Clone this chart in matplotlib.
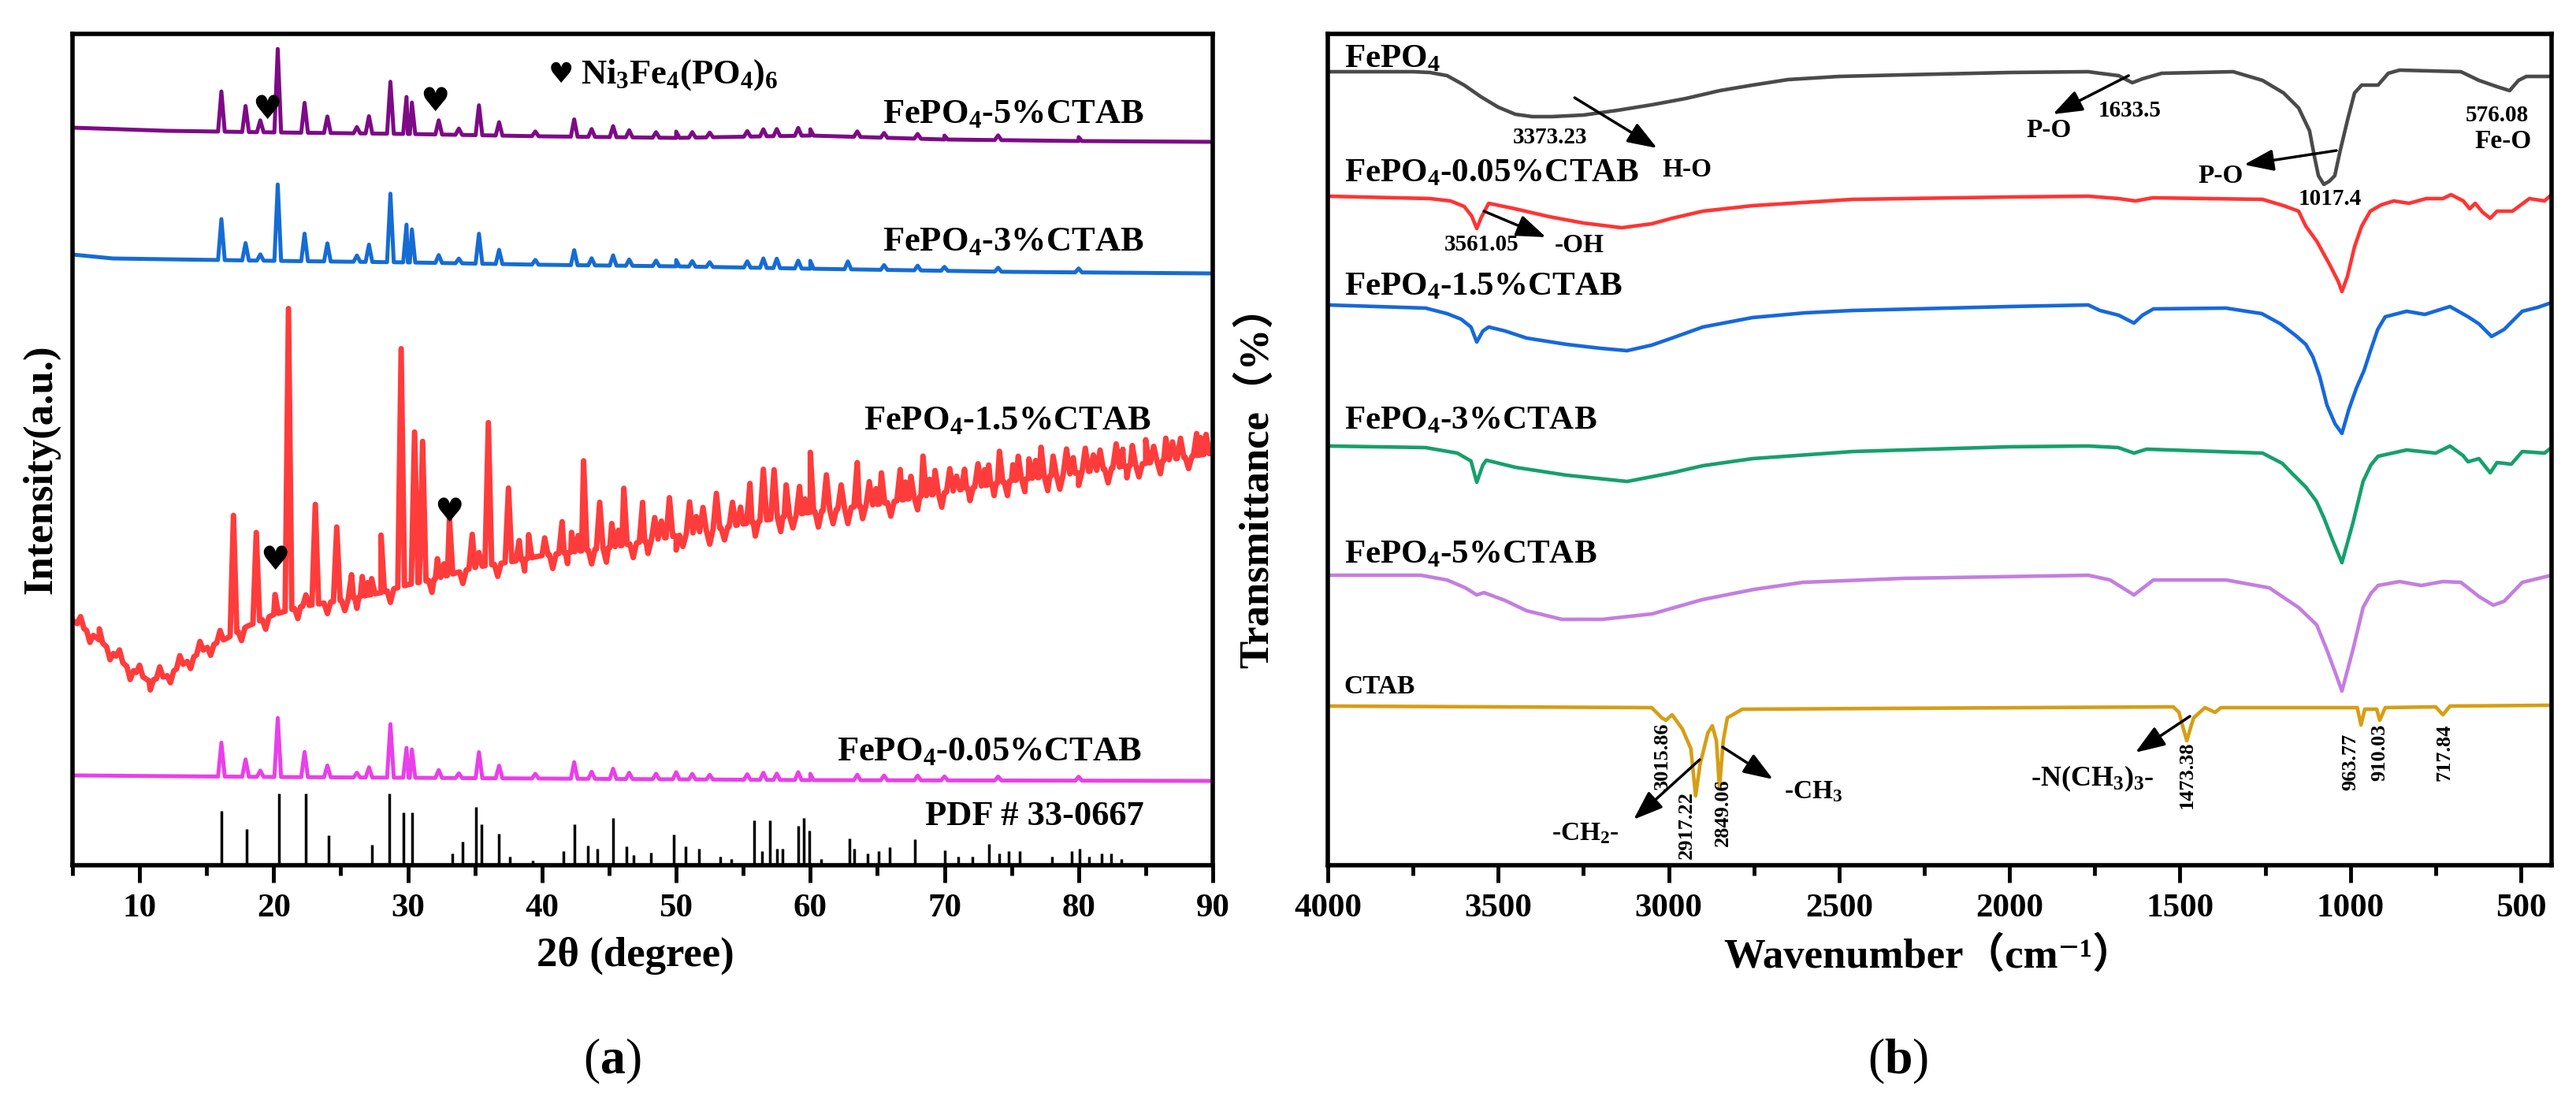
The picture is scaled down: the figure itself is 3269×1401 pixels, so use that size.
# coding: utf-8

import numpy as np
import matplotlib
matplotlib.use('Agg')
import matplotlib.pyplot as plt
from matplotlib.ticker import MultipleLocator


######################
# Fonts
plt.rcParams['font.family'] = ['Liberation Serif', 'DejaVu Serif', 'Noto Sans CJK SC']
plt.rcParams['font.weight'] = 'bold'
plt.rcParams['mathtext.fontset'] = 'custom'
plt.rcParams['mathtext.rm'] = 'Liberation Serif:bold'
plt.rcParams['mathtext.it'] = 'Liberation Serif:italic:bold'
plt.rcParams['mathtext.bf'] = 'Liberation Serif:bold'

######################
# XRD data (a): baselines (2theta, a.u.) and peaks (2theta, height above baseline)
xrd_5_base = [(5, 936), (12, 932), (20, 930), (30, 928), (40, 925), (50, 923),
              (60, 926), (70, 921), (80, 919), (90, 918)]
xrd_5_peaks = [(16.1, 51), (17.9, 33), (19.0, 15), (20.3, 106), (22.3, 38), (24.0, 21),
               (26.2, 8), (27.1, 22), (28.7, 66), (29.9, 47), (30.3, 40), (32.3, 18),
               (33.8, 8), (35.3, 38), (36.8, 17), (39.5, 6), (42.4, 22), (43.7, 10),
               (45.3, 14), (46.5, 9), (48.5, 7), (50.0, 8), (51.2, 7), (52.5, 6),
               (55.3, 7), (56.5, 9), (57.5, 9), (59.1, 10), (60.0, 8), (63.5, 7),
               (65.5, 6), (68.0, 6), (70.0, 5), (74.0, 6), (80.0, 5)]

xrd_3_base = [(5, 775), (8, 770), (20, 767), (30, 765), (40, 762), (50, 760),
              (60, 757), (75, 753), (90, 751)]
xrd_3_peaks = [(16.1, 52), (17.9, 22), (19.0, 8), (20.3, 97), (22.3, 35), (24.0, 23),
               (26.2, 8), (27.1, 22), (28.7, 87), (29.9, 48), (30.3, 42), (32.3, 10),
               (33.8, 6), (35.3, 38), (36.8, 18), (39.5, 6), (42.4, 19), (43.7, 9),
               (45.3, 13), (46.5, 8), (48.5, 7), (50.0, 8), (51.2, 7), (52.5, 6),
               (55.3, 8), (56.5, 12), (57.5, 12), (59.1, 10), (60.0, 10), (62.8, 10),
               (65.5, 6), (68.0, 6), (70.0, 5), (74.0, 5), (80.0, 5)]

xrd_15_base = [(5, 311), (7, 286), (9, 253), (10.7, 234), (12, 240), (13.5, 258),
               (15, 276), (16.5, 288), (18, 303), (20, 318), (22, 328), (25, 336),
               (28, 346), (30, 356), (32, 363), (35, 378), (38, 386), (40, 393),
               (45, 403), (50, 418), (55, 433), (60, 448), (65, 458), (70, 473),
               (75, 488), (80, 498), (85, 510), (90, 523)]
xrd_15_peaks = [(17.0, 151), (18.7, 114), (20.1, 25), (21.1, 383), (23.1, 127), (24.7, 94),
                (25.8, 30), (26.6, 25), (27.3, 20), (28.0, 73), (29.5, 302), (30.5, 192),
                (31.1, 178), (32.2, 25), (33.1, 71), (34.8, 43), (36.0, 181), (37.5, 94),
                (38.3, 25), (39.0, 30), (40.2, 22), (41.5, 40), (42.2, 25), (43.1, 114),
                (44.3, 59), (45.2, 30), (46.1, 72), (47.5, 50), (48.4, 28), (49.5, 50),
                (51.0, 40), (52.0, 30), (53.0, 45), (54.2, 30), (55.5, 50), (56.5, 65),
                (57.3, 62), (58.2, 40), (59.2, 35), (60.0, 76), (61.2, 45), (62.3, 30),
                (63.5, 56), (64.4, 30), (65.3, 39), (66.7, 39), (67.5, 28), (68.4, 51),
                (69.3, 30), (70.4, 29), (71.5, 25), (72.5, 29), (73.3, 25), (74.1, 40),
                (75.5, 30), (76.3, 25), (77.2, 38), (78.1, 25), (79.1, 32), (80.5, 30),
                (81.6, 25), (82.8, 30), (84.0, 25), (85.0, 30), (86.5, 28), (87.6, 25),
                (88.8, 28), (89.5, 25)]
# fine up/down structure of the noisy 1.5 % pattern
xrd_15_fine = [(5.6, 12), (6.3, -12), (7.0, 14), (7.8, -12), (8.5, 12), (9.3, -14),
               (10.0, 12), (10.8, -12), (11.5, 14), (12.3, -12), (13.0, 14), (13.8, -12),
               (14.5, 14), (15.3, -12), (16.0, 14), (17.6, -14), (19.4, -14), (21.8, -14),
               (22.4, 14), (24.0, -14), (25.3, -14), (26.2, -14), (27.0, 16), (28.7, -16),
               (31.8, -16), (32.7, 16), (34.1, -16), (35.3, 18), (36.7, -16), (38.7, -15),
               (40.8, -18), (41.9, -14), (42.7, 20), (43.7, -18), (44.8, -18), (45.7, 20),
               (46.8, -18), (47.9, -16), (48.9, 22), (50.0, -18), (50.5, -15), (51.5, 20),
               (52.5, -18), (53.6, -16), (54.8, 22), (55.9, -18), (57.8, -18), (58.7, -16),
               (59.6, 18), (60.6, -20), (61.7, -18), (62.8, -20), (63.9, -16), (64.9, 20),
               (66.0, -18), (67.1, 22), (68.0, -16), (68.9, 20), (69.8, -18), (70.9, 18),
               (71.9, -16), (73.0, 20), (73.7, -15), (74.7, -18), (75.1, 20), (76.0, -16),
               (76.8, 22), (77.7, -18), (78.6, -18), (79.6, 20), (80.0, -16), (81.1, 20),
               (82.2, -18), (83.3, 22), (83.6, -15), (84.5, -16), (85.6, 20), (86.1, -16),
               (87.0, 22), (88.2, -15), (89.1, 22)]

xrd_005_base = [(5, 114), (20, 112), (40, 110), (60, 108), (90, 107)]
xrd_005_peaks = [(16.1, 43), (17.9, 22), (19.0, 8), (20.3, 75), (22.3, 32), (24.0, 15),
                 (26.2, 6), (27.1, 13), (28.7, 68), (29.9, 38), (30.3, 36), (32.3, 10),
                 (33.8, 6), (35.3, 33), (36.8, 16), (39.5, 6), (42.4, 21), (43.7, 9),
                 (45.3, 13), (46.5, 8), (48.5, 7), (50.0, 9), (51.2, 7), (52.5, 6),
                 (55.3, 7), (56.5, 9), (57.5, 8), (59.1, 10), (60.0, 8), (63.5, 7),
                 (65.5, 6), (68.0, 6), (70.0, 5), (74.0, 5), (80.0, 5)]

# Standard card PDF # 33-0667 (2theta, stick height)
pdf_sticks = [(16.1, 69), (18.0, 46), (20.4, 91), (22.4, 91), (24.1, 38), (27.3, 26),
              (28.6, 91), (29.7, 67), (30.3, 67), (33.3, 15), (34.1, 30), (35.1, 74),
              (35.5, 52), (36.8, 40), (37.6, 11), (39.3, 6), (41.6, 18), (42.4, 52),
              (43.4, 25), (44.1, 21), (45.3, 60), (46.3, 24), (46.8, 13), (48.1, 16),
              (49.8, 39), (50.7, 24), (51.7, 21), (53.3, 11), (54.1, 8), (55.8, 57),
              (56.4, 18), (57.0, 57), (57.5, 21), (57.9, 21), (59.1, 50), (59.5, 60),
              (59.9, 44), (60.8, 8), (62.9, 34), (63.3, 21), (64.3, 15), (65.1, 18),
              (65.9, 23), (67.8, 33), (70.0, 19), (71.0, 11), (72.1, 11), (73.3, 27),
              (74.1, 15), (74.8, 18), (75.6, 18), (78.0, 11), (79.5, 18), (80.1, 21),
              (80.8, 11), (81.7, 15), (82.4, 15), (83.2, 8)]

xrd_labels = ['FePO$_4$-5%CTAB', 'FePO$_4$-3%CTAB', 'FePO$_4$-1.5%CTAB',
              'FePO$_4$-0.05%CTAB', 'PDF # 33-0667']
phase_label = 'Ni$_3$Fe$_4$(PO$_4$)$_6$'
# Ni3Fe4(PO4)6 marks (2theta, a.u.)
heart_marks = [(19.5, 959), (32.0, 969), (20.1, 387), (33.1, 448)]

######################
# FTIR data (b): (wavenumber, transmittance a.u.)
ftir_fepo4 = [(4000, 1007), (3750, 1007), (3700, 1006), (3650, 1002), (3600, 990),
              (3550, 975), (3500, 962), (3450, 953), (3400, 950), (3343, 950),
              (3250, 952), (3150, 958), (3050, 965), (2950, 973), (2850, 983),
              (2754, 990), (2650, 997), (2500, 1001), (2313, 1003), (2000, 1006),
              (1769, 1007), (1735, 1005), (1680, 1002), (1640, 993), (1610, 998),
              (1554, 1005), (1344, 1007), (1258, 996), (1196, 980), (1152, 961),
              (1120, 932), (1106, 900), (1094, 875), (1078, 864), (1062, 868),
              (1046, 875), (1030, 907), (1009, 945), (988, 980), (967, 990),
              (919, 990), (889, 1005), (856, 1009), (676, 1007), (623, 996),
              (570, 988), (533, 983), (507, 996), (484, 1001), (410, 1001)]
ftir_005 = [(4000, 849), (3700, 846), (3640, 843), (3600, 836), (3578, 824), (3563, 808),
            (3550, 822), (3528, 840), (3450, 833), (3350, 823), (3250, 815), (3138, 809),
            (3050, 814), (2990, 821), (2900, 830), (2754, 837), (2460, 845), (2000, 848),
            (1769, 849), (1680, 846), (1631, 843), (1580, 847), (1258, 845), (1196, 837),
            (1152, 830), (1131, 811), (1099, 792), (1062, 763), (1036, 741), (1025, 728),
            (1009, 747), (988, 785), (967, 811), (942, 830), (910, 838), (873, 843),
            (828, 840), (778, 846), (729, 846), (705, 851), (669, 843), (650, 833),
            (634, 840), (613, 829), (590, 821), (570, 830), (525, 830), (475, 846),
            (431, 843), (410, 851)]
ftir_15 = [(4000, 711), (3713, 707), (3650, 700), (3609, 693), (3580, 683), (3563, 664),
           (3545, 678), (3528, 683), (3480, 678), (3417, 669), (3300, 661), (3200, 656),
           (3122, 653), (3050, 660), (2990, 669), (2900, 683), (2754, 695), (2600, 701),
           (2460, 704), (2000, 709), (1769, 711), (1735, 704), (1680, 698), (1635, 688),
           (1610, 698), (1578, 706), (1365, 707), (1260, 700), (1205, 687), (1160, 672),
           (1131, 661), (1110, 645), (1090, 620), (1069, 584), (1045, 560), (1025, 548),
           (1005, 578), (983, 605), (960, 628), (942, 652), (920, 680), (898, 696),
           (835, 703), (782, 699), (708, 709), (655, 696), (623, 687), (586, 671),
           (549, 680), (496, 703), (450, 708), (410, 714)]
ftir_3 = [(4000, 532), (3713, 530), (3620, 523), (3580, 513), (3563, 486), (3545, 508),
          (3535, 514), (3450, 505), (3300, 495), (3122, 487), (2990, 498), (2900, 507),
          (2754, 516), (2460, 525), (2000, 531), (1769, 532), (1681, 530), (1635, 523),
          (1598, 528), (1258, 523), (1200, 510), (1173, 498), (1131, 480), (1100, 462),
          (1078, 441), (1050, 410), (1025, 384), (993, 434), (963, 487), (940, 508),
          (919, 519), (835, 527), (750, 523), (708, 532), (670, 520), (655, 512),
          (623, 516), (590, 498), (570, 511), (528, 509), (496, 525), (431, 523), (410, 530)]
ftir_5 = [(4000, 368), (3727, 368), (3650, 362), (3596, 352), (3563, 343), (3542, 346),
          (3480, 336), (3417, 323), (3313, 312), (3196, 312), (3048, 319), (2902, 337),
          (2750, 350), (2606, 359), (2313, 364), (1769, 368), (1705, 362), (1635, 343),
          (1578, 362), (1365, 362), (1238, 352), (1152, 327), (1099, 305), (1069, 273),
          (1045, 245), (1025, 221), (993, 273), (963, 327), (940, 345), (919, 355),
          (856, 360), (792, 355), (729, 360), (676, 359), (623, 341), (581, 330),
          (549, 335), (496, 359), (410, 368)]
ftir_ctab = [(4000, 202), (3050, 200), (3020, 187), (3008, 184), (2990, 191), (2960, 173),
             (2935, 148), (2921, 88), (2908, 128), (2885, 168), (2872, 177), (2860, 158),
             (2851, 98), (2840, 158), (2828, 187), (2784, 198), (1520, 201), (1503, 194),
             (1490, 173), (1480, 158), (1470, 173), (1460, 187), (1427, 200), (1397, 194),
             (1380, 200), (980, 200), (969, 178), (958, 198), (923, 198), (914, 184),
             (898, 200), (750, 201), (729, 191), (708, 202), (410, 203)]

ftir_labels = ['FePO$_4$', 'FePO$_4$-0.05%CTAB', 'FePO$_4$-1.5%CTAB',
               'FePO$_4$-3%CTAB', 'FePO$_4$-5%CTAB', 'CTAB']


def xrd_curve(base, peaks, w=0.25):
    # Put narrow triangular peaks on a baseline
    bx, by = np.array(base, float).T
    px, ph = np.array(peaks, float).T
    xs = np.concatenate([bx, px - w, px, px + w])
    ys = np.concatenate([by, np.interp(px - w, bx, by),
                         np.interp(px, bx, by) + ph, np.interp(px + w, bx, by)])
    order = np.argsort(xs, kind='stable')
    return xs[order], ys[order]


######################
# Figure layout (pixel boxes of the two panels)
W, H = 3269, 1401
fig = plt.figure(figsize=(W / 100, H / 100), dpi=100)
ax1 = fig.add_axes([92 / W, 1 - 1098 / H, (1539 - 92) / W, (1098 - 43) / H])
ax2 = fig.add_axes([1685 / W, 1 - 1098 / H, (3238 - 1685) / W, (1098 - 43) / H])

######################
# Panel (a): XRD
xrd_sets = [(xrd_5_base, xrd_5_peaks, '#7d0a86', 3.6),
            (xrd_3_base, xrd_3_peaks, '#156cd4', 3.6),
            (xrd_15_base, xrd_15_peaks + xrd_15_fine, '#ff3c3c', 5.0),
            (xrd_005_base, xrd_005_peaks, '#ea3fea', 3.6)]
for base, peaks, color, lw in xrd_sets:
    x, y = xrd_curve(base, peaks)
    ax1.plot(x, y, color=color, lw=lw, solid_joinstyle='round')

sx, sh = np.array(pdf_sticks).T
ax1.vlines(sx, 0, sh, color='black', lw=2.5)

# Sample labels
label_y = [953, 791, 564, 144, 62]
label_x = [84.85, 84.85, 85.4, 84.7, 84.85]
for txt, lx, ly in zip(xrd_labels, label_x, label_y):
    ax1.text(lx, ly, txt, fontsize=32, ha='right', va='center')

# Phase marks and their key
for hx, hy in heart_marks:
    ax1.text(hx, hy, '\u2665', fontsize=30, family='DejaVu Sans',
             ha='center', va='center')
ax1.text(41.4, 1003, '\u2665', fontsize=26, family='DejaVu Sans', ha='center', va='center')
ax1.text(42.9, 1003, phase_label, fontsize=32, ha='left', va='center')

ax1.set_xlim(5, 90)
ax1.set_ylim(0, 1055)
ax1.set_yticks([])
ax1.xaxis.set_major_locator(MultipleLocator(10))
ax1.xaxis.set_minor_locator(MultipleLocator(5))

######################
# Panel (b): FTIR
ftir_sets = [(ftir_fepo4, '#4a4a4a'), (ftir_005, '#ff3434'), (ftir_15, '#1668dc'),
             (ftir_3, '#16a06c'), (ftir_5, '#c47ee0'), (ftir_ctab, '#d69e14')]
for data, color in ftir_sets:
    wn, t = np.array(data).T
    ax2.plot(wn, t, color=color, lw=3.3)

lab_y = [1023, 878, 734, 564, 394, 227]
for txt, ly in zip(ftir_labels, lab_y):
    ax2.text(3952, ly, txt, fontsize=24 if txt == 'CTAB' else 31, ha='left', va='center')

# Band assignments
small = dict(fontsize=21, ha='center', va='center')
group = dict(fontsize=24, ha='center', va='center')
ax2.text(3348, 924, '3373.23', **small)
ax2.text(3020, 883, 'H-O', fontsize=24, ha='left', va='center')
ax2.text(1647, 958, '1633.5', **small)
ax2.text(1885, 932, 'P-O', **group)
ax2.text(570, 951, '576.08', **small)
ax2.text(553, 919, 'Fe-O', **group)
ax2.text(1381, 875, 'P-O', **group)
ax2.text(1060, 846, '1017.4', **small)
ax2.text(3549, 787, '3561.05', **small)
ax2.text(3263, 786, '-OH', **group)
ax2.text(3244, 40, '-CH$_2$-', **group)
ax2.text(2662, 93, '-CH$_3$', fontsize=24, ha='left', va='center')
ax2.text(1758, 110, '-N(CH$_3$)$_3$-', fontsize=26, ha='center', va='center')

vert = dict(fontsize=19, ha='center', va='center', rotation=90)
ax2.text(3018, 139, '3015.86', **vert)
ax2.text(2948, 51, '2917.22', **vert)
ax2.text(2840, 67, '2849.06', **vert)
ax2.text(1480, 115, '1473.38', **vert)
ax2.text(1000, 131, '963.77', **vert)
ax2.text(914, 143, '910.03', **vert)
ax2.text(724, 143, '717.84', **vert)

arrow = dict(arrowstyle='-|>,head_length=0.6,head_width=0.22', color='black',
             lw=2.5, shrinkA=0, shrinkB=0, mutation_scale=38)
arrows = [((3276, 974), (3034, 910)), ((1651, 1002), (1873, 953)),
          ((1041, 907), (1312, 889)), ((3542, 830), (3360, 797)),
          ((2909, 134), (3103, 58)), ((2842, 150), (2694, 109)),
          ((1471, 189), (1631, 143))]
for tail, head in arrows:
    ax2.annotate('', xy=head, xytext=tail, arrowprops=arrow)

ax2.set_xlim(4000, 410)
ax2.set_ylim(0, 1055)
ax2.set_yticks([])
ax2.xaxis.set_major_locator(MultipleLocator(500))
ax2.xaxis.set_minor_locator(MultipleLocator(250))

######################
# Common axis styling
for ax in (ax1, ax2):
    for sp in ax.spines.values():
        sp.set_linewidth(4)
    ax.tick_params(axis='x', which='major', direction='out', length=16, width=3.5,
                   pad=10, labelsize=31)
    ax.tick_params(axis='x', which='minor', direction='out', length=9, width=3.5)

fig.text(806 / W, 1 - 1213 / H, '2θ (degree)', fontsize=38, ha='center', va='center')
fig.text(2448 / W, 1 - 1213 / H, 'Wavenumber\uff08cm\u207b\u00b9\uff09', fontsize=38,
         ha='center', va='center')
fig.text(52 / W, 1 - 596 / H, 'Intensity(a.u.)', fontsize=38, rotation=90,
         ha='center', va='center')
fig.text(1595 / W, 1 - 605 / H, 'Transmittance\uff08%\uff09', fontsize=38, rotation=90,
         ha='center', va='center')
fig.text(777 / W, 1 - 1347 / H, r'($\mathbf{a}$)', fontsize=46, fontweight='normal',
         ha='center', va='center')
fig.text(2409 / W, 1 - 1347 / H, r'($\mathbf{b}$)', fontsize=46, fontweight='normal',
         ha='center', va='center')

fig.savefig('out.png', dpi=100)
plt.close('all')
